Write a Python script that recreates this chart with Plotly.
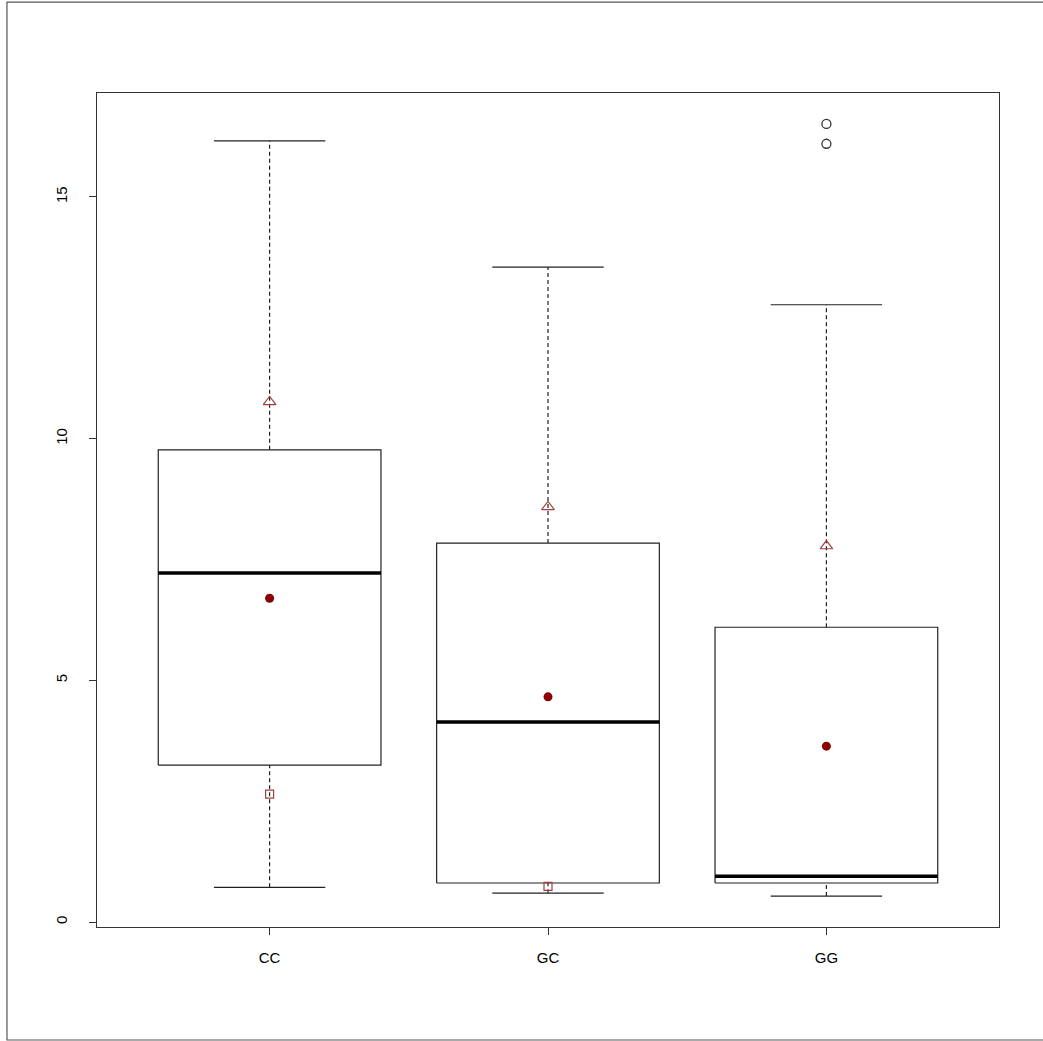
import plotly.graph_objects as go

categories = ["CC", "GC", "GG"]
positions = [1, 2, 3]
lower_whisker = [0.72, 0.60, 0.54]
q1 = [3.25, 0.81, 0.81]
median = [7.22, 4.14, 0.95]
q3 = [9.77, 7.84, 6.10]
upper_whisker = [16.16, 13.55, 12.77]
means = [6.70, 4.66, 3.64]
mean_plus_sd = [10.76, 8.59, 7.78]
mean_minus_sd = [2.65, 0.74, -0.50]
outlier_x = [3, 3]
outlier_y = [16.51, 16.10]

BOX_HW = 0.4
CAP_HW = 0.2
LINE = "#222222"

fig = go.Figure()

for i, p in enumerate(positions):
    fig.add_trace(go.Scatter(
        x=[p - BOX_HW, p + BOX_HW, p + BOX_HW, p - BOX_HW, p - BOX_HW],
        y=[q1[i], q1[i], q3[i], q3[i], q1[i]],
        mode="lines", line=dict(color=LINE, width=1.2),
        hoverinfo="skip", showlegend=False))
    fig.add_trace(go.Scatter(
        x=[p - BOX_HW, p + BOX_HW], y=[median[i], median[i]],
        mode="lines", line=dict(color="black", width=3.5),
        hoverinfo="skip", showlegend=False))
    fig.add_trace(go.Scatter(
        x=[p, p], y=[q3[i], upper_whisker[i]],
        mode="lines", line=dict(color=LINE, width=1.2, dash="4px,3px"),
        hoverinfo="skip", showlegend=False))
    fig.add_trace(go.Scatter(
        x=[p, p], y=[lower_whisker[i], q1[i]],
        mode="lines", line=dict(color=LINE, width=1.2, dash="4px,3px"),
        hoverinfo="skip", showlegend=False))
    for v in (upper_whisker[i], lower_whisker[i]):
        fig.add_trace(go.Scatter(
            x=[p - CAP_HW, p + CAP_HW], y=[v, v],
            mode="lines", line=dict(color=LINE, width=1.2),
            hoverinfo="skip", showlegend=False))

fig.add_trace(go.Scatter(
    x=outlier_x, y=outlier_y, mode="markers",
    marker=dict(symbol="circle-open", size=9, color="#333333", line=dict(width=1.3)),
    showlegend=False))
fig.add_trace(go.Scatter(
    x=positions, y=mean_plus_sd, mode="markers",
    marker=dict(symbol="triangle-up-open", size=11, color="#a04040", line=dict(width=1.2)),
    showlegend=False))
fig.add_trace(go.Scatter(
    x=positions, y=mean_minus_sd, mode="markers",
    marker=dict(symbol="square-open", size=8, color="#a04040", line=dict(width=1.2)),
    showlegend=False))
fig.add_trace(go.Scatter(
    x=positions, y=means, mode="markers",
    marker=dict(symbol="circle", size=9, color="#8b0000"),
    showlegend=False))

font = dict(family="Liberation Sans, Arial, sans-serif", size=15, color="black")

fig.update_layout(
    width=1043, height=1041,
    margin=dict(l=97, r=44, t=93, b=114),
    paper_bgcolor="white", plot_bgcolor="white",
    font=font,
    xaxis=dict(range=[0.38, 3.62], tickvals=positions, ticktext=categories,
               showgrid=False, zeroline=False, showline=True, mirror=True,
               linecolor="#333333", linewidth=1.2, ticks="outside", ticklen=7,
               tickcolor="#333333", tickfont=font, ticklabelstandoff=10),
    yaxis=dict(range=[-0.10, 17.15], tickvals=[0, 5, 10, 15],
               ticktext=["0", "5", "10", "15"], tickangle=-90,
               showgrid=False, zeroline=False, showline=True, mirror=True,
               linecolor="#333333", linewidth=1.2, ticks="outside", ticklen=7,
               tickcolor="#333333", tickfont=font, ticklabelstandoff=16),
    shapes=[dict(type="rect", xref="paper", yref="paper",
                 x0=-0.0998, x1=1.05, y0=-0.1355, y1=1.109,
                 line=dict(color="#555555", width=1.2), layer="below")],
)

fig.write_html("out.html", config={"displayModeBar": False},
               post_script="document.body.style.margin='0';document.body.style.padding='0';")
